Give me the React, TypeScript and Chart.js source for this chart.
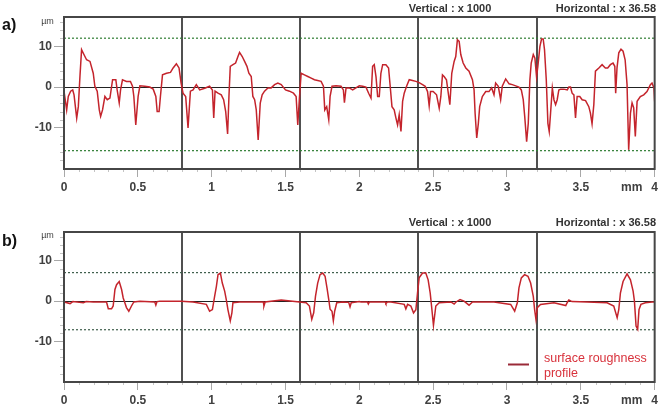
import React, { useEffect, useRef } from "react";
import { Chart, registerables } from "chart.js";

Chart.register(...registerables);

// ---------- data ----------
const profileAX = [0.000,0.018,0.029,0.045,0.059,0.068,0.086,0.097,0.108,0.119,0.135,0.153,0.176,0.198,0.209,0.225,0.239,0.248,0.261,0.277,0.293,0.311,0.329,0.351,0.360,0.374,0.383,0.396,0.423,0.450,0.464,0.473,0.486,0.502,0.514,0.547,0.581,0.604,0.622,0.631,0.644,0.653,0.667,0.694,0.721,0.739,0.761,0.779,0.793,0.806,0.824,0.840,0.856,0.874,0.896,0.919,0.953,0.986,
1.005,1.014,1.023,1.043,1.065,1.081,1.095,1.108,1.117,1.126,1.144,1.162,1.178,1.189,1.207,1.223,1.239,1.252,1.268,1.279,1.291,1.302,1.315,1.329,1.342,1.358,1.381,1.403,1.426,1.448,1.471,1.500,1.527,1.554,1.572,1.583,1.595,1.606,1.628,1.651,1.674,1.696,1.718,1.741,1.757,1.766,1.779,1.793,1.802,1.815,1.842,1.876,1.892,1.899,1.910,1.932,1.955,1.977,
2.000,2.023,2.045,2.063,2.079,2.090,2.101,2.113,2.124,2.135,2.146,2.158,2.180,2.198,2.209,2.221,2.236,2.248,2.259,2.270,2.282,2.293,2.304,2.320,2.338,2.360,2.383,2.405,2.428,2.446,2.462,2.473,2.482,2.500,2.523,2.541,2.552,2.563,2.574,2.590,2.604,2.613,2.626,2.642,2.653,2.664,2.676,2.687,2.703,2.721,2.743,2.766,2.777,2.784,2.795,2.806,2.815,2.833,2.856,2.878,2.896,2.912,2.923,2.941,2.957,2.968,2.991,
3.014,3.036,3.059,3.081,3.097,3.110,3.120,3.133,3.144,3.155,3.164,3.178,3.189,3.200,3.209,3.223,3.234,3.245,3.254,3.266,3.277,3.286,3.295,3.307,3.318,3.329,3.340,3.351,3.363,3.385,3.408,3.419,3.430,3.441,3.453,3.464,3.475,3.493,3.509,3.532,3.554,3.565,3.576,3.588,3.599,3.622,3.644,3.666,3.682,3.700,3.718,3.730,3.736,3.745,3.757,3.772,3.786,3.800,3.813,3.824,3.836,3.847,3.858,3.869,3.881,3.903,3.926,3.948,3.971,3.982,3.995,4.000];
const profileAY = [-1.0,-5.6,-2.3,-1.0,-0.7,-1.9,-7.6,-4.8,2.6,9.2,8.0,6.7,6.3,3.4,0.2,-1.0,-5.6,-7.2,-5.6,-2.3,-3.1,-2.7,1.8,1.8,-0.7,-3.9,-0.7,1.8,1.4,1.4,0.2,-2.3,-9.3,-2.3,0.3,0.2,0.0,-0.5,-2.3,-6.0,-6.0,-2.3,3.0,3.4,3.6,4.7,5.7,4.7,1.0,-1.5,-2.3,-10.0,-1.0,-0.7,0.6,-0.7,-0.3,0.2,
-0.7,-7.6,-1.0,-1.5,-1.9,-3.1,-6.0,-11.5,-2.3,5.1,5.5,5.9,7.5,8.5,7.5,6.3,5.1,3.4,2.6,-2.3,-3.1,-5.6,-13.0,-3.9,-1.9,-1.0,-0.2,-0.2,0.6,1.0,0.6,-0.7,-1.0,-1.5,-2.3,-9.3,-2.3,3.4,3.0,2.6,2.2,1.8,1.6,1.4,0.2,-5.6,-4.8,-8.0,-2.3,0.2,0.3,0.2,-0.7,-3.8,-0.2,-0.2,-0.7,-0.2,
0.3,0.2,0.0,-1.5,-2.7,5.1,5.5,2.5,-2.3,-2.3,3.4,5.5,5.5,4.7,0.2,-4.8,-5.6,-7.6,-9.3,-6.8,-10.9,-3.5,-1.5,0.2,1.8,1.6,1.4,1.1,0.6,0.2,-1.1,-4.6,-1.1,-1.1,-1.9,-5.2,-2.3,3.0,2.6,1.8,-1.9,-4.3,3.4,6.3,7.5,11.6,11.2,8.0,5.9,4.7,3.9,1.8,-0.7,-6.4,-12.5,-8.9,-4.8,-2.3,-1.1,-1.1,-0.2,-1.9,1.0,0.2,-3.1,0.2,2.0,
0.8,0.6,0.3,0.0,-0.7,-3.1,-7.2,-13.4,-8.9,1.8,5.9,8.0,7.1,2.6,5.1,10.0,11.8,11.8,9.2,1.8,-8.9,-10.9,-6.4,-0.2,-3.1,-4.3,-3.1,-0.7,-0.5,-0.5,-0.7,0.0,0.0,-1.5,-1.9,-7.6,-2.3,-2.3,-3.1,-3.3,-4.8,-6.4,-9.0,-4.3,3.9,4.7,5.5,4.7,4.7,5.5,5.9,5.1,-1.5,4.7,8.4,9.3,8.8,6.7,0.6,-15.4,-6.4,-3.9,-5.1,-12.1,-3.5,-2.3,-1.9,-1.1,0.6,1.0,-0.2,-3.5];

const profileBX = [0.000,0.041,0.060,0.131,0.150,0.198,0.288,0.300,0.322,0.333,0.345,0.356,0.374,0.390,0.401,0.412,0.423,0.439,0.457,0.473,0.514,0.615,0.622,0.630,0.649,0.795,0.874,0.964,0.986,1.005,1.020,1.032,1.043,1.059,1.072,1.088,1.099,1.110,1.126,1.137,1.144,1.189,1.350,1.354,1.362,1.471,1.595,1.640,1.662,1.678,1.691,1.703,1.718,1.734,1.752,1.768,1.781,1.793,1.802,1.815,1.824,1.833,1.847,1.887,1.928,1.937,1.945,
2.000,2.011,2.055,2.061,2.068,2.175,2.180,2.190,2.214,2.304,2.315,2.327,2.349,2.367,2.383,2.394,2.405,2.428,2.450,2.466,2.480,2.489,2.502,2.518,2.541,2.620,2.642,2.655,2.682,2.709,2.743,2.766,2.912,3.025,3.052,3.070,3.081,3.097,3.119,3.142,3.160,3.178,3.187,3.196,3.205,3.227,3.318,3.398,3.410,3.419,3.440,3.543,3.678,3.723,3.746,3.757,3.768,3.786,3.813,3.836,3.854,3.863,3.874,3.885,3.894,3.907,3.937,3.982,4.000];
const profileBY = [-0.2,-0.6,-0.1,-0.4,-0.1,-0.2,-0.2,-1.9,-1.9,-1.2,2.9,4.1,4.9,2.9,0.8,-0.4,-1.6,-2.5,-1.2,-0.2,0.0,-0.2,-1.0,-0.1,0.0,0.0,-0.2,-0.8,-2.5,-2.1,1.2,3.7,6.6,7.0,4.5,2.5,0.4,-2.1,-4.9,-2.9,-0.4,-0.2,-0.2,-1.2,-0.2,0.3,-0.2,-0.4,-1.2,-4.5,-2.9,1.2,4.5,6.6,7.0,6.2,3.3,0.4,-2.0,-2.5,-4.9,-2.5,-0.4,-0.2,-0.3,-1.4,-0.4,
-0.1,-0.2,-0.2,-0.7,-0.2,-0.2,-0.6,-0.2,-0.2,-0.8,-1.9,-0.8,-1.2,-2.9,-2.1,2.0,5.8,7.0,7.0,5.3,2.0,-1.2,-6.0,-1.2,-0.4,-0.2,-0.7,-0.2,0.4,0.0,-1.0,-0.2,-0.2,-0.8,-2.5,-0.4,3.3,5.8,6.6,6.2,4.5,1.2,-2.1,-4.5,-1.6,-0.8,-0.4,-1.1,-0.2,0.3,-0.1,-0.2,-0.4,-1.2,-4.1,-2.1,2.0,4.9,6.8,5.3,2.5,0.0,-6.2,-7.0,-2.1,-0.8,-0.4,-0.2,-0.2];

const limitsA = [12, -15.6];
const limitsB = [7.1, -7.1];
const xTickLabels = [0, 0.5, 1, 1.5, 2, 2.5, 3, 3.5, 4];
const dividers = [0.8, 1.6, 2.4, 3.2];
const yTickLabels = [-10, 0, 10];
const unitPos = 3.845;
const yRange = [-20.1, 17.2];
const xRange = [0, 4];
const headerVertical = "Vertical : x 1000";
const headerHorizontal = "Horizontal : x 36.58";
const legendLines = ["surface roughness", "profile"];

const FONT = '"Liberation Sans", Arial, sans-serif';

type Panel = {
  label: string;
  xs: number[];
  ys: number[];
  limits: number[];
  limitColor: string;
  height: number;
  padTop: number;
  xAxisHeight: number;
  labelY: number;
  umY: number;
  headerY: number;
  legend: boolean;
};

function makeChart(canvas: HTMLCanvasElement, p: Panel) {
  const decor = {
    id: "decor",
    afterDraw(chart: any) {
      const { ctx, chartArea, scales } = chart;
      const { left, right, top, bottom } = chartArea;
      ctx.save();
      // minor ticks
      ctx.strokeStyle = "#c4c4c4";
      ctx.lineWidth = 1;
      for (let v = -20; v <= 16; v += 2) {
        if (v % 10 === 0) continue;
        const y = Math.round(scales.y.getPixelForValue(v)) + 0.5;
        ctx.beginPath();
        ctx.moveTo(left - 4, y);
        ctx.lineTo(left, y);
        ctx.stroke();
      }
      for (let i = 1; i < 40; i++) {
        if (i % 5 === 0) continue;
        const x = Math.round(scales.x.getPixelForValue(i / 10)) + 0.5;
        ctx.beginPath();
        ctx.moveTo(x, bottom);
        ctx.lineTo(x, bottom + 3);
        ctx.stroke();
      }
      // frame
      ctx.strokeStyle = "#464646";
      ctx.lineWidth = 2;
      ctx.strokeRect(left, top, right - left, bottom - top);
      // texts
      ctx.fillStyle = "#111";
      ctx.font = `bold 16px ${FONT}`;
      ctx.textBaseline = "middle";
      ctx.textAlign = "left";
      ctx.fillText(p.label, 2, p.labelY);
      ctx.fillStyle = "#444";
      ctx.font = `9px ${FONT}`;
      ctx.textAlign = "center";
      ctx.fillText("µm", 47.5, p.umY);
      ctx.fillStyle = "#333";
      ctx.font = `bold 11px ${FONT}`;
      ctx.textAlign = "center";
      ctx.fillText(headerVertical, 450, p.headerY);
      ctx.textAlign = "right";
      ctx.fillText(headerHorizontal, 656, p.headerY);
      if (p.legend) {
        ctx.strokeStyle = "#9a2a38";
        ctx.lineWidth = 2;
        ctx.beginPath();
        ctx.moveTo(508, 164.5);
        ctx.lineTo(529, 164.5);
        ctx.stroke();
        ctx.fillStyle = "#d8323c";
        ctx.font = `12.5px ${FONT}`;
        ctx.textAlign = "left";
        ctx.fillText(legendLines[0], 544, 158.5);
        ctx.fillText(legendLines[1], 544, 173.5);
      }
      ctx.restore();
    },
  };

  const isDivider = (v: number) => dividers.some((d) => Math.abs(d - v) < 1e-6);
  const isLabel = (v: number) => xTickLabels.some((d) => Math.abs(d - v) < 1e-6);

  return new Chart(canvas, {
    type: "line",
    data: {
      datasets: [
        {
          data: p.xs.map((x, i) => ({ x, y: p.ys[i] })),
          borderColor: "#c4242c",
          borderWidth: 1.5,
          pointRadius: 0,
          tension: 0,
        },
        ...p.limits.map((l) => ({
          data: [
            { x: xRange[0], y: l },
            { x: xRange[1], y: l },
          ],
          borderColor: p.limitColor,
          borderWidth: 1.2,
          borderDash: [2, 2],
          pointRadius: 0,
        })),
      ],
    },
    options: {
      responsive: false,
      animation: false,
      layout: { padding: { left: 0, right: 5, top: p.padTop, bottom: 0 } },
      plugins: { legend: { display: false }, tooltip: { enabled: false } },
      scales: {
        x: {
          type: "linear",
          min: xRange[0],
          max: xRange[1],
          afterBuildTicks: (scale: any) => {
            const vals = [...xTickLabels, ...dividers, unitPos].sort((a, b) => a - b);
            scale.ticks = vals.map((v) => ({ value: v }));
          },
          afterFit: (scale: any) => {
            scale.height = p.xAxisHeight;
          },
          border: { display: false },
          grid: {
            drawOnChartArea: true,
            tickLength: 8,
            color: (c: any) => (isDivider(c.tick?.value) ? "#505050" : "rgba(0,0,0,0)"),
            lineWidth: (c: any) => (isDivider(c.tick?.value) ? 2 : 1),
            tickColor: (c: any) => (isLabel(c.tick?.value) ? "#a8a8a8" : "rgba(0,0,0,0)"),
          },
          ticks: {
            autoSkip: false,
            maxRotation: 0,
            padding: 3,
            color: "#404040",
            font: { family: FONT, size: 12, weight: "bold" },
            callback: (v: any) => {
              if (Math.abs(v - unitPos) < 1e-6) return "mm";
              return isLabel(v) ? String(v) : "";
            },
          },
        },
        y: {
          type: "linear",
          min: yRange[0],
          max: yRange[1],
          afterBuildTicks: (scale: any) => {
            scale.ticks = yTickLabels.map((v) => ({ value: v }));
          },
          afterFit: (scale: any) => {
            scale.width = 64;
          },
          border: { display: false },
          grid: {
            tickLength: 10,
            color: (c: any) => (c.tick?.value === 0 ? "#222" : "rgba(0,0,0,0)"),
            tickColor: "#a8a8a8",
          },
          ticks: {
            padding: 2,
            color: "#404040",
            font: { family: FONT, size: 12, weight: "bold" },
            callback: (v: any) => String(v),
          },
        },
      },
    },
    plugins: [decor],
  } as any);
}

const panels: Panel[] = [
  {
    label: "a)",
    xs: profileAX,
    ys: profileAY,
    limits: limitsA,
    limitColor: "#2e7d32",
    height: 200,
    padTop: 17,
    xAxisHeight: 31,
    labelY: 25.5,
    umY: 21.5,
    headerY: 9,
    legend: false,
  },
  {
    label: "b)",
    xs: profileBX,
    ys: profileBY,
    limits: limitsB,
    limitColor: "#3f5f4c",
    height: 216,
    padTop: 32,
    xAxisHeight: 34,
    labelY: 41.7,
    umY: 35.5,
    headerY: 22.5,
    legend: true,
  },
];

function PanelChart({ p }: { p: Panel }) {
  const ref = useRef<HTMLCanvasElement>(null);
  useEffect(() => {
    if (!ref.current) return;
    const chart = makeChart(ref.current, p);
    return () => chart.destroy();
  }, [p]);
  return <canvas ref={ref} width={661} height={p.height} style={{ display: "block", width: 661, height: p.height }} />;
}

export default function App() {
  return (
    <div style={{ position: "fixed", left: 0, top: 0, width: 661, height: 416, background: "#fff" }}>
      {panels.map((p) => (
        <PanelChart key={p.label} p={p} />
      ))}
    </div>
  );
}
